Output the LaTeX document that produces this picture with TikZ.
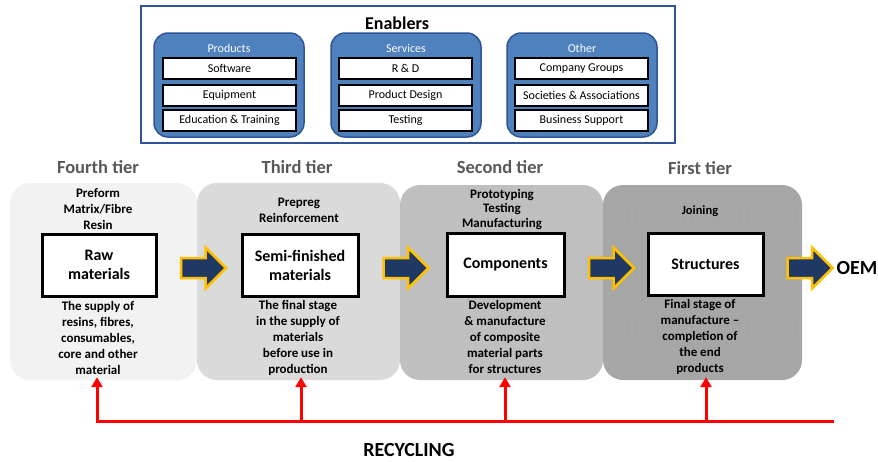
\documentclass[tikz,border=0pt]{standalone}
\usepackage{fontspec}
\setmainfont{Carlito}
\usetikzlibrary{shapes.arrows,arrows.meta,patterns.meta,positioning}
\definecolor{framebl}{HTML}{2F5597}
\definecolor{groupbl}{HTML}{4F81BD}
\definecolor{navy}{HTML}{1F3864}
\definecolor{gold}{HTML}{FFC000}
\definecolor{tiergr}{HTML}{595959}
\definecolor{shadeA}{HTML}{F2F2F2}
\definecolor{shadeB}{HTML}{DADADA}
\definecolor{shadeC}{HTML}{BFBFBF}
\definecolor{shadeD}{HTML}{A6A6A6}

\begin{document}
\begin{tikzpicture}
[ x=1pt, y=-1pt, inner sep=0pt
, enabbox/.style={rectangle, draw=framebl, line width=2.5pt, fill=white, minimum width=534, minimum height=137}
, group/.style={rectangle, rounded corners=14pt, draw=framebl, line width=1.5pt, fill=groupbl, minimum width=150, minimum height=104}
, grouphead/.style={text=white, font=\fontsize{12}{14}\selectfont}
, item/.style={rectangle, draw=black, line width=1.5pt, fill=white, minimum width=133, minimum height=21, font=\fontsize{12}{14}\selectfont}
, tier/.style={text=tiergr, font=\bfseries\fontsize{18.5}{22}\selectfont}
, panel/.style={rectangle, rounded corners=20pt, preaction={fill=#1}, pattern={Dots[distance=6.5pt,radius=0.7pt]}, pattern color=white!20!#1, minimum height=197}
, stage/.style={rectangle, draw=black, line width=3pt, fill=white, minimum height=62, align=center, font=\bfseries\fontsize{16}{19}\selectfont}
, note/.style={align=center, font=\bfseries\fontsize{13}{16}\selectfont}
, flow/.style={single arrow, draw=gold, fill=navy, line width=2.5pt, inner ysep=8.75pt, minimum height=45, minimum width=38.5, single arrow head extend=10.5pt}
, recycle/.style={draw=red, line width=3pt, -{Triangle[length=10pt,width=11pt]}}
]
\useasboundingbox (0,0) rectangle (878,461);

% Enablers:
\node (enab) [enabbox] at (408,74.5) {};
\node [font=\bfseries\fontsize{18}{20}\selectfont] at (397,23) {Enablers};
\node (prod) [group] at (229,85) {};
\node (serv) [group] at (406,85) {};
\node (other) [group] at (582,85) {};
\node [grouphead] at (229,48) {Products};
\node [grouphead] at (406,48) {Services};
\node [grouphead] at (582,48) {Other};
\node (soft) [item] at (229.5,68.5) {Software};
\node (equip) [item] at (229.5,95.5) {Equipment};
\node (educ) [item] at (229.5,120.5) {Education \& Training};
\node (rd) [item] at (405.5,68.5) {R \& D};
\node (design) [item] at (405.5,95.5) {Product Design};
\node (test) [item] at (405.5,120.5) {Testing};
\node (comp) [item] at (581.5,68.5) {Company Groups};
\node (soc) [item] at (581.5,95.5) {Societies \& Associations};
\node (bus) [item] at (581.5,120.5) {Business Support};

% Tiers:
\node (p1) [panel=shadeA, minimum width=187] at (103.5,281.5) {};
\node (p2) [panel=shadeB, minimum width=203] at (298.5,281.5) {};
\node (p3) [panel=shadeC, minimum width=203, minimum height=195] at (501.5,282.5) {};
\node (p4) [panel=shadeD, minimum width=199, minimum height=195] at (702.5,282.5) {};
\node [tier] at (98,167) {Fourth tier};
\node [tier] at (297,167) {Third tier};
\node [tier] at (500,167) {Second tier};
\node [tier] at (700,168) {First tier};

\node (raw) [stage, minimum width=114] at (99,265) {Raw\\materials};
\node (semi) [stage, minimum width=116] at (300,265) {Semi-finished\\materials};
\node (compo) [stage, minimum width=117, minimum height=63] at (505.5,264.5) {Components};
\node (struct) [stage, minimum width=115] at (705.5,264) {Structures};

\node [note] at (98,209) {Preform\\Matrix/Fibre\\Resin};
\node [note] at (299,210) {Prepreg\\Reinforcement};
\node [note, font=\bfseries\fontsize{13}{14.5}\selectfont] at (502,209.5) {Prototyping\\Testing\\Manufacturing};
\node [note, font=\bfseries\fontsize{12.5}{15}\selectfont] at (700,211) {Joining};
\node [note] at (98,338) {The supply of\\resins, fibres,\\consumables,\\core and other\\material};
\node [note] at (298,338) {The final stage\\in the supply of\\materials\\before use in\\production};
\node [note] at (505,336.5) {Development\\\& manufacture\\of composite\\material parts\\for structures};
\node [note] at (700,336.5) {Final stage of\\manufacture --\\completion of\\the end\\products};

\node (a1) [flow] at (198.5,268) {};
\node (a2) [flow] at (401,268) {};
\node (a3) [flow] at (606.5,268) {};
\node (a4) [flow] at (805,268) {};
\node (oem) [font=\bfseries\fontsize{20}{22}\selectfont] at (857,268) {OEM};

% Recycling:
\coordinate (rc1) at (97,421);
\coordinate (rc2) at (301,421);
\coordinate (rc3) at (505,421);
\coordinate (rc4) at (706,421);
\coordinate (rcend) at (832,421);
\draw [draw=red, line width=3pt, line cap=rect] (rc1) -- (rcend);
\draw [recycle, shorten >=-3pt] (rc1) -- (rc1 |- p1.south);
\draw [recycle, shorten >=-3pt] (rc2) -- (rc2 |- p2.south);
\draw [recycle, shorten >=-3pt] (rc3) -- (rc3 |- p3.south);
\draw [recycle, shorten >=-3pt] (rc4) -- (rc4 |- p4.south);
\node (recy) [font=\bfseries\fontsize{20}{22}\selectfont] at (409,450) {RECYCLING};
\end{tikzpicture}
\end{document}
